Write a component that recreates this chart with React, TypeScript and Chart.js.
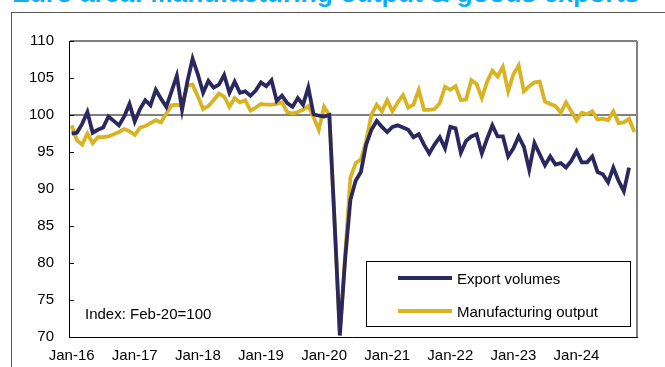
import React, { useEffect, useRef } from "react";
import { Chart, registerables } from "chart.js";

Chart.register(...registerables);

const MONTHS = ["Jan", "Feb", "Mar", "Apr", "May", "Jun", "Jul", "Aug", "Sep", "Oct", "Nov", "Dec"];
const YEARS = ["16", "17", "18", "19", "20", "21", "22", "23", "24"];
const categories: string[] = [];
for (const y of YEARS) for (const m of MONTHS) categories.push(`${m}-${y}`);

const yTicks = [70, 75, 80, 85, 90, 95, 100, 105, 110];

const exportVolumes: (number | null)[] = [
  97.5, 97.6, 98.8, 100.4, 97.6, 98.0, 98.3, 99.8, 99.2, 98.6, 99.8, 101.5,
  99.1, 100.8, 102.0, 101.3, 103.4, 102.2, 101.1, 103.2, 105.3, 100.7, 104.5, 107.6,
  105.5, 103.0, 104.6, 103.7, 104.1, 105.4, 103.0, 104.5, 103.0, 103.2, 102.6, 103.3,
  104.4, 103.9, 104.7, 101.9, 102.6, 101.6, 101.1, 102.3, 101.4, 103.7, 100.1, 99.9,
  99.8, 100.0, 85.5, 70.2, 80.5, 88.5, 91.1, 92.3, 96.0, 98.0, 99.2, 98.4,
  97.7, 98.4, 98.6, 98.3, 98.0, 97.0, 97.4, 96.0, 94.8, 96.0, 97.0, 95.5,
  98.4, 98.2, 94.9, 96.5, 97.1, 97.4, 94.8, 96.8, 98.6, 97.1, 97.1, 94.4,
  95.5, 97.1, 95.7, 92.6, 96.2, 94.7, 93.2, 94.4, 93.3, 93.5, 92.9, 93.8,
  95.1, 93.6, 93.6, 94.4, 92.3, 92.0, 90.9, 92.9, 91.1, 89.7, 92.9, null,
];

const manufacturingOutput: number[] = [
  98.6, 96.6, 96.0, 97.5, 96.2, 97.0, 97.0, 97.1, 97.4, 97.7, 98.1, 97.8,
  97.3, 98.3, 98.5, 98.9, 99.3, 99.0, 100.2, 101.3, 101.4, 101.2, 104.0, 104.1,
  102.5, 100.8, 101.2, 102.0, 102.9, 102.5, 101.1, 102.3, 101.7, 102.0, 100.6, 101.0,
  101.5, 101.4, 101.4, 101.5, 101.7, 100.4, 100.2, 100.4, 100.7, 101.2, 99.7, 98.0,
  101.1, 100.0, 85.5, 70.7, 81.0, 91.5, 93.5, 94.0, 96.5, 100.0, 101.4, 100.5,
  102.0, 100.5, 101.7, 102.7, 101.0, 101.4, 103.4, 100.7, 100.7, 100.8, 101.6, 103.8,
  103.4, 103.9, 102.0, 102.1, 104.7, 104.2, 102.3, 104.5, 106.0, 105.2, 106.5, 103.2,
  105.5, 106.7, 103.2, 103.9, 104.4, 104.5, 101.8, 101.5, 101.2, 100.3, 101.7, 100.5,
  99.3, 100.3, 100.1, 100.5, 99.4, 99.5, 99.3, 100.5, 98.9, 99.0, 99.5, 97.7,
];

const seriesNames = ["Export volumes", "Manufacturing output"];
const seriesColors = ["#2a285e", "#d9b422"];
const noteText = "Index: Feb-20=100";
const titleText = "Euro area: Manufacturing output & goods exports";

const FONT = "'Liberation Sans', Arial, sans-serif";

const decorPlugin = {
  id: "decor",
  beforeDatasetsDraw(chart: any) {
    const { ctx, chartArea: a, scales } = chart;
    const y = scales.y;
    ctx.save();
    ctx.strokeStyle = "#000";
    ctx.lineWidth = 1;
    for (const v of yTicks) {
      const py = Math.round(y.getPixelForValue(v)) + 0.5;
      ctx.beginPath();
      ctx.moveTo(a.left, py);
      ctx.lineTo(a.left + 5, py);
      ctx.stroke();
    }
    ctx.strokeStyle = "#808080";
    ctx.lineWidth = 2;
    ctx.beginPath();
    ctx.moveTo(a.right, a.top);
    ctx.lineTo(a.right, a.bottom);
    ctx.stroke();
    ctx.restore();
  },
  afterDatasetsDraw(chart: any) {
    const { ctx, chartArea: a } = chart;
    ctx.save();
    ctx.font = `15px ${FONT}`;
    ctx.fillStyle = "#000";
    ctx.textBaseline = "alphabetic";
    ctx.fillText(noteText, a.left + 16, a.bottom - 18);

    const bx = a.right - 271;
    const by = a.bottom - 76;
    const bw = 264;
    const bh = 65;
    ctx.fillStyle = "#fff";
    ctx.fillRect(bx, by, bw, bh);
    ctx.strokeStyle = "#000";
    ctx.lineWidth = 1;
    ctx.strokeRect(Math.round(bx) + 0.5, Math.round(by) + 0.5, bw, bh);
    const rows = [by + 17, by + 50];
    seriesNames.forEach((name, i) => {
      ctx.strokeStyle = seriesColors[i];
      ctx.lineWidth = 3.8;
      ctx.beginPath();
      ctx.moveTo(bx + 32, rows[i]);
      ctx.lineTo(bx + 86, rows[i]);
      ctx.stroke();
      ctx.fillStyle = "#000";
      ctx.font = `15px ${FONT}`;
      ctx.fillText(name, bx + 91, rows[i] + 5.5);
    });
    ctx.restore();
  },
};

export default function App() {
  const ref = useRef<HTMLCanvasElement | null>(null);
  useEffect(() => {
    if (!ref.current) return;
    const chart = new Chart(ref.current, {
      type: "line",
      data: {
        labels: categories,
        datasets: [
          {
            label: seriesNames[1],
            data: manufacturingOutput,
            borderColor: seriesColors[1],
            backgroundColor: seriesColors[1],
            borderWidth: 3.8,
            pointRadius: 0,
            tension: 0,
            order: 2,
          },
          {
            label: seriesNames[0],
            data: exportVolumes,
            borderColor: seriesColors[0],
            backgroundColor: seriesColors[0],
            borderWidth: 3.8,
            pointRadius: 0,
            tension: 0,
            order: 1,
          },
        ],
      },
      options: {
        responsive: false,
        animation: false,
        events: [],
        layout: { padding: { left: 0, top: 41, right: 28, bottom: 0 } },
        plugins: { legend: { display: false }, tooltip: { enabled: false }, title: { display: false } },
        scales: {
          x: {
            type: "category",
            offset: true,
            grid: { display: false, drawTicks: false },
            border: { display: true, color: "#000", width: 1 },
            afterFit: (s: any) => {
              s.height = 30;
            },
            ticks: {
              autoSkip: false,
              maxRotation: 0,
              minRotation: 0,
              padding: 10,
              color: "#000",
              font: { family: FONT, size: 15 },
              callback: (_v: any, i: number) => (categories[i].startsWith("Jan") ? categories[i] : ""),
            },
          },
          y: {
            min: 70,
            max: 110,
            afterFit: (s: any) => {
              s.width = 69;
            },
            grid: {
              drawTicks: false,
              lineWidth: 2,
              color: (c: any) => (c.tick && (c.tick.value === 100 || c.tick.value === 110) ? "#808080" : "rgba(0,0,0,0)"),
            },
            border: { display: true, color: "#000", width: 1 },
            ticks: {
              stepSize: 5,
              padding: 15,
              color: "#000",
              font: { family: FONT, size: 15 },
            },
          },
        },
      },
      plugins: [decorPlugin],
    });
    return () => chart.destroy();
  }, []);

  return (
    <div style={{ position: "fixed", left: 0, top: 0, width: 665, height: 367, overflow: "hidden", background: "#fff" }}>
      <div
        style={{
          position: "absolute",
          left: 12,
          top: -20,
          whiteSpace: "nowrap",
          font: `bold 26.5px ${FONT}`,
          lineHeight: "26px",
          color: "#10aeef",
        }}
      >
        {titleText}
      </div>
      <div
        style={{
          position: "absolute",
          left: 11,
          top: 12,
          width: 700,
          height: 400,
          borderLeft: "1px solid #555",
          borderTop: "1px solid #555",
        }}
      />
      <canvas ref={ref} width={665} height={367} style={{ position: "absolute", left: 0, top: 0 }} />
    </div>
  );
}
